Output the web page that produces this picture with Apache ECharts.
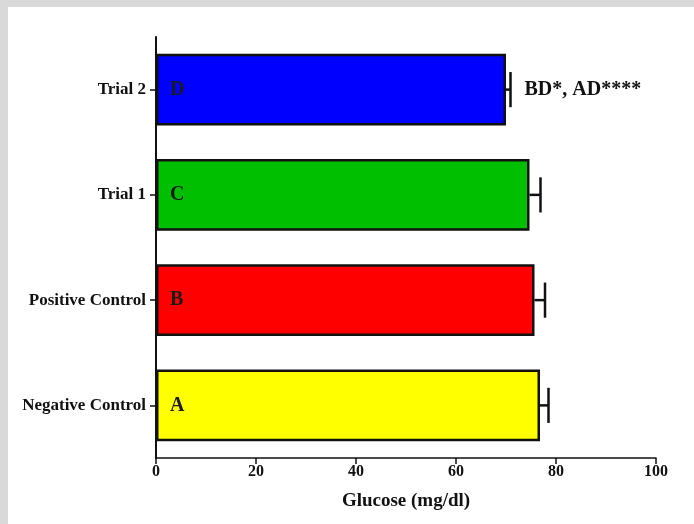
<!DOCTYPE html>
<html>
<head>
<meta charset="utf-8">
<script src="https://cdn.jsdelivr.net/npm/echarts@6/dist/echarts.min.js"></script>
<style>
html, body { margin: 0; padding: 0; background: #d9d9d9; width: 694px; height: 524px; overflow: hidden; }
#chartmain { position: absolute; left: 8px; top: 7px; width: 686px; height: 517px; background: #fff; }
</style>
</head>
<body>
<div id="chartmain"></div>
<script>
// data, bottom to top
var groups = ['Negative Control', 'Positive Control', 'Trial 1', 'Trial 2'];
var glucose = [76.8, 75.7, 74.7, 70.0];
var sd = [1.7, 2.1, 2.2, 0.9];
var letters = ['A', 'B', 'C', 'D'];
var notes = ['', '', '', 'BD*, AD****'];
var barColors = ['#ffff00', '#ff0000', '#00bf00', '#0000ff'];
var xTicks = [0, 20, 40, 60, 80, 100];

var chart = echarts.init(document.getElementById('chartmain'));
var font = 'Liberation Serif';

var barData = glucose.map(function (v, i) {
    return { value: v, itemStyle: { color: barColors[i] } };
});

var errData = glucose.map(function (v, i) { return [i, v, sd[i]]; });

option = {
    animation: false,
    grid: { left: 148, right: 38, top: 30, bottom: 66 },
    xAxis: {
        type: 'value',
        min: xTicks[0],
        max: xTicks[xTicks.length - 1],
        interval: 20,
        name: 'Glucose (mg/dl)',
        nameLocation: 'middle',
        nameGap: 34,
        nameTextStyle: { fontFamily: font, fontWeight: 'bold', fontSize: 19, color: '#111' },
        axisLine: { show: true, lineStyle: { color: '#111', width: 1.5 } },
        axisTick: { show: true, length: 6, lineStyle: { color: '#111', width: 1.5 } },
        axisLabel: { fontFamily: font, fontWeight: 'bold', fontSize: 16, color: '#111', margin: 6 },
        splitLine: { show: false }
    },
    yAxis: {
        type: 'category',
        data: groups,
        axisLine: { show: true, lineStyle: { color: '#111', width: 2 } },
        axisTick: { show: true, length: 6, alignWithLabel: true, lineStyle: { color: '#111', width: 1.5 } },
        axisLabel: { fontFamily: font, fontWeight: 'bold', fontSize: 17, color: '#111', margin: 10 },
        splitLine: { show: false }
    },
    series: [
        {
            type: 'bar',
            data: barData,
            barCategoryGap: '32%',
            itemStyle: { borderColor: '#111', borderWidth: 2.5 },
            label: {
                show: true,
                position: 'insideLeft',
                distance: 14,
                formatter: function (p) { return letters[p.dataIndex]; },
                fontFamily: font,
                fontWeight: 'bold',
                fontSize: 20,
                color: '#1a1a1a'
            },
            z: 2
        },
        {
            type: 'custom',
            data: errData,
            encode: { x: [1, 2], y: 0 },
            renderItem: function (params, api) {
                var idx = api.value(0);
                var mean = api.value(1);
                var err = api.value(2);
                var start = api.coord([mean, idx]);
                var end = api.coord([mean + err, idx]);
                var half = api.size([0, 1])[1] * 0.167;
                var style = { stroke: '#111', lineWidth: 2.5 };
                var children = [
                    { type: 'line', shape: { x1: start[0], y1: start[1], x2: end[0], y2: end[1] }, style: style },
                    { type: 'line', shape: { x1: end[0], y1: end[1] - half, x2: end[0], y2: end[1] + half }, style: style }
                ];
                var note = notes[params.dataIndex];
                if (note) {
                    children.push({
                        type: 'text',
                        x: end[0] + 14,
                        y: end[1],
                        style: {
                            text: note,
                            fontFamily: font,
                            fontWeight: 'bold',
                            fontSize: 20,
                            fill: '#111',
                            verticalAlign: 'middle',
                            align: 'left'
                        }
                    });
                }
                return { type: 'group', children: children };
            },
            z: 3
        }
    ]
};

chart.setOption(option);
</script>
</body>
</html>
